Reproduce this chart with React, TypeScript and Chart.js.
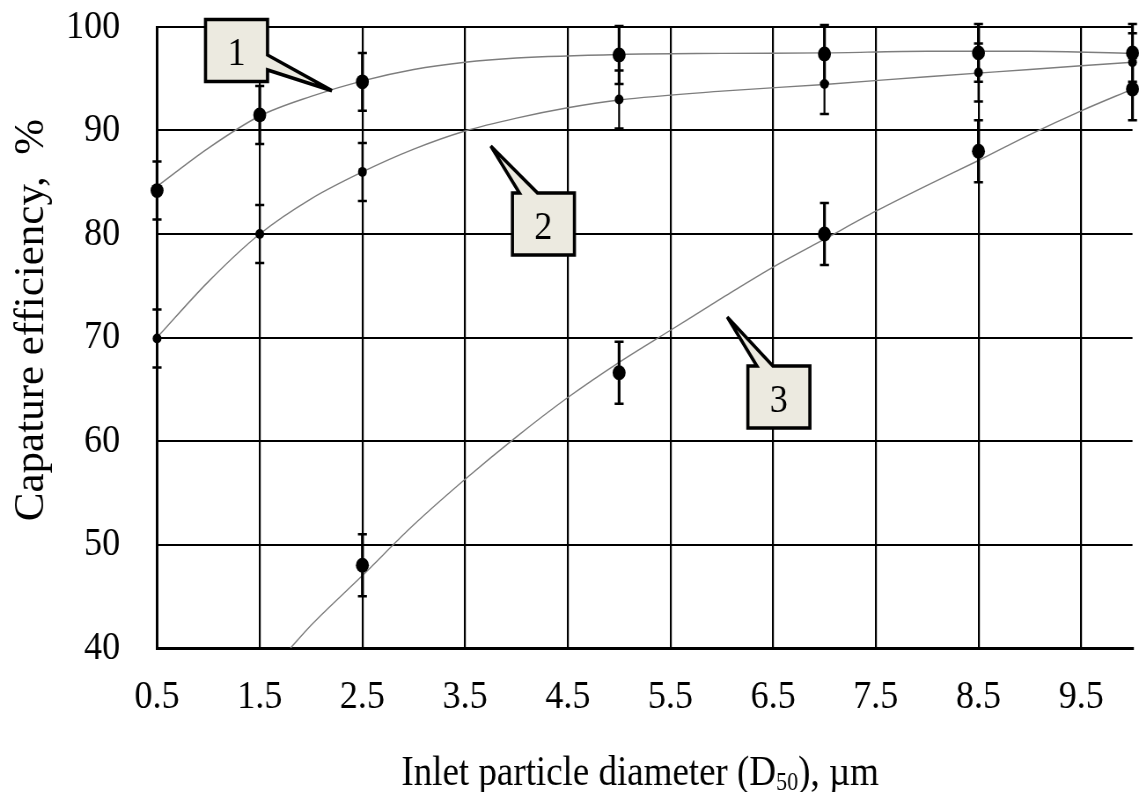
import React, { useEffect, useRef } from "react";
import { Chart, registerables } from "chart.js";

Chart.register(...registerables);

// ---------------- data ----------------
const xTickValues = [0.5, 1.5, 2.5, 3.5, 4.5, 5.5, 6.5, 7.5, 8.5, 9.5];
const yTickValues = [40, 50, 60, 70, 80, 90, 100];

// curve 1 (measured)
const diam1 = [0.5, 1.5, 2.5, 5, 7, 8.5, 10];
const eff1 = [84.2, 91.5, 94.7, 97.3, 97.4, 97.5, 97.5];
const err1 = [2.8, 2.8, 2.8, 2.8, 2.8, 2.8, 2.8];

// curve 2 (measured)
const diam2 = [0.5, 1.5, 2.5, 5, 7, 8.5, 10];
const eff2 = [69.9, 80.0, 86.0, 93.0, 94.5, 95.6, 96.6];
const err2 = [2.8, 2.8, 2.8, 2.8, 2.9, 2.8, 2.8];

// curve 3 (measured)
const diam3 = [2.5, 5, 7, 8.5, 10];
const eff3 = [48.0, 66.6, 80.0, 88.0, 94.0];
const err3 = [3.0, 3.0, 3.0, 3.0, 3.0];

// fitted trend lines
const fitX1 = [0.5, 1.0, 1.5, 2.0, 2.5, 3.0, 3.5, 4.0, 5.0, 6.0, 7.0, 8.0, 9.0, 10.0];
const fitY1 = [84.6, 88.3, 91.4, 93.3, 94.8, 95.9, 96.6, 97.0, 97.35, 97.45, 97.5, 97.65, 97.65, 97.45];

const fitX2 = [0.5, 1.0, 1.5, 2.0, 2.5, 3.0, 3.5, 4.0, 4.5, 5.0, 6.0, 7.0, 8.0, 9.0, 10.0];
const fitY2 = [70.0, 75.4, 80.0, 83.4, 86.0, 88.2, 89.95, 91.2, 92.2, 92.95, 93.8, 94.45, 95.2, 95.9, 96.6];

const fitX3 = [1.8, 2.0, 2.5, 3.0, 3.5, 4.0, 4.5, 5.0, 5.5, 6.0, 6.5, 7.0, 7.5, 8.0, 8.5, 9.0, 9.5, 10.0];
const fitY3 = [40.0, 42.2, 47.0, 51.9, 56.3, 60.4, 64.2, 67.6, 70.7, 73.8, 76.8, 79.5, 82.2, 84.7, 87.1, 89.6, 91.9, 94.0];

// callout labels (box centre and pointer tip, in data units)
const calloutLabels = ["1", "2", "3"];
const calloutBoxX = [1.274, 4.263, 6.556];
const calloutBoxY = [97.73, 80.97, 64.25];
const calloutTipX = [2.203, 3.75, 6.053];
const calloutTipY = [93.85, 88.5, 71.98];

const xTitleMain = "Inlet particle diameter (D";
const xTitleSub = "50";
const xTitleEnd = "), \u00b5m";
const yTitle = "Capature efficiency,  %";

// ---------------- layout / style ----------------
const SQUEEZE = 0.88; // the reference figure is horizontally compressed
const VIEW_W = 1139;
const VIEW_H = 792;
const CANVAS_W = Math.round(VIEW_W / SQUEEZE);
const PLOT_LEFT = 157 / SQUEEZE;
const PLOT_TOP = 27;
const PLOT_BOTTOM = 648;
const FONT = '"Liberation Serif", "Times New Roman", Times, serif';

const tailSpecs = [
  { side: "right", a: 4.5, b: 19.5 },
  { side: "top", a: -24, b: -6 },
  { side: "top", a: -22, b: -6 },
];

const toPts = (xs: number[], ys: number[]) => xs.map((x, i) => ({ x, y: ys[i] }));

const errorSets = [
  { xs: diam1, ys: eff1, es: err1, w: 3.2 },
  { xs: diam2, ys: eff2, es: err2, w: 2.2 },
  { xs: diam3, ys: eff3, es: err3, w: 3.2 },
];

const errorBarPlugin = {
  id: "errorBars",
  afterDatasetsDraw(chart: any) {
    const { ctx, scales } = chart;
    const xs = scales.x;
    const ys = scales.y;
    const capHalf = 4.5 / SQUEEZE;
    ctx.save();
    ctx.strokeStyle = "#000";
    errorSets.forEach((set) => {
      set.xs.forEach((xv, i) => {
        const px = xs.getPixelForValue(xv);
        const top = ys.getPixelForValue(set.ys[i] + set.es[i]);
        const bot = ys.getPixelForValue(set.ys[i] - set.es[i]);
        ctx.lineWidth = set.w;
        ctx.beginPath();
        ctx.moveTo(px, top);
        ctx.lineTo(px, bot);
        ctx.stroke();
        ctx.lineWidth = 2.5;
        ctx.beginPath();
        ctx.moveTo(px - capHalf, top);
        ctx.lineTo(px + capHalf, top);
        ctx.moveTo(px - capHalf, bot);
        ctx.lineTo(px + capHalf, bot);
        ctx.stroke();
      });
    });
    ctx.restore();
  },
};

const annotationPlugin = {
  id: "annotations",
  afterDraw(chart: any) {
    const { ctx, scales } = chart;
    const xs = scales.x;
    const ys = scales.y;
    const hw = 31 / SQUEEZE;
    const hh = 31;
    ctx.save();
    calloutLabels.forEach((label, i) => {
      const cx = xs.getPixelForValue(calloutBoxX[i]);
      const cy = ys.getPixelForValue(calloutBoxY[i]);
      const tx = xs.getPixelForValue(calloutTipX[i]);
      const ty = ys.getPixelForValue(calloutTipY[i]);
      const L = cx - hw, R = cx + hw, T = cy - hh, B = cy + hh;
      const t = tailSpecs[i];
      ctx.beginPath();
      ctx.moveTo(L, T);
      if (t.side === "top") {
        ctx.lineTo(cx + t.a / SQUEEZE, T);
        ctx.lineTo(tx, ty);
        ctx.lineTo(cx + t.b / SQUEEZE, T);
        ctx.lineTo(R, T);
        ctx.lineTo(R, B);
      } else {
        ctx.lineTo(R, T);
        ctx.lineTo(R, cy + t.a);
        ctx.lineTo(tx, ty);
        ctx.lineTo(R, cy + t.b);
        ctx.lineTo(R, B);
      }
      ctx.lineTo(L, B);
      ctx.closePath();
      ctx.fillStyle = "#ECEAE0";
      ctx.fill();
      ctx.lineWidth = 3.6;
      ctx.lineJoin = "miter";
      ctx.miterLimit = 4;
      ctx.strokeStyle = "#000";
      ctx.stroke();
      ctx.fillStyle = "#000";
      ctx.font = `41px ${FONT}`;
      ctx.textAlign = "center";
      ctx.textBaseline = "alphabetic";
      ctx.fillText(label, cx, cy + 15);
    });

    // y-axis title (not compressed across its height in the reference)
    ctx.save();
    ctx.font = `43px ${FONT}`;
    ctx.fillStyle = "#000";
    ctx.translate(43 / SQUEEZE, 320);
    ctx.rotate(-Math.PI / 2);
    ctx.scale(1, 1 / SQUEEZE);
    ctx.textAlign = "center";
    ctx.textBaseline = "alphabetic";
    ctx.fillText(yTitle, 0, 0);
    ctx.restore();

    // x-axis title with subscript
    ctx.fillStyle = "#000";
    ctx.textAlign = "left";
    ctx.textBaseline = "alphabetic";
    const mainFont = `42px ${FONT}`;
    const subFont = `25px ${FONT}`;
    ctx.font = mainFont;
    const w1 = ctx.measureText(xTitleMain).width;
    const w3 = ctx.measureText(xTitleEnd).width;
    ctx.font = subFont;
    const w2 = ctx.measureText(xTitleSub).width;
    const total = w1 + w2 + w3;
    const centerX = 640 / SQUEEZE;
    const base = 785;
    let x0 = centerX - total / 2;
    ctx.font = mainFont;
    ctx.fillText(xTitleMain, x0, base);
    x0 += w1;
    ctx.font = subFont;
    ctx.fillText(xTitleSub, x0, base + 5);
    x0 += w2;
    ctx.font = mainFont;
    ctx.fillText(xTitleEnd, x0, base);
    ctx.restore();
  },
};

export default function App() {
  const canvasRef = useRef<HTMLCanvasElement | null>(null);

  useEffect(() => {
    const canvas = canvasRef.current;
    if (!canvas) return;
    const fitStyle = {
      showLine: true,
      pointRadius: 0,
      borderColor: "#7d7d7d",
      borderWidth: 1.4,
      cubicInterpolationMode: "monotone" as const,
      fill: false,
    };
    const chart = new Chart(canvas, {
      type: "scatter",
      data: {
        datasets: [
          { label: "1", data: toPts(diam1, eff1), pointRadius: 7.4, backgroundColor: "#000", borderColor: "#000", pointBorderWidth: 0, clip: false },
          { label: "2", data: toPts(diam2, eff2), pointRadius: 5, backgroundColor: "#000", borderColor: "#000", pointBorderWidth: 0, clip: false },
          { label: "3", data: toPts(diam3, eff3), pointRadius: 7.4, backgroundColor: "#000", borderColor: "#000", pointBorderWidth: 0, clip: false },
          { label: "fit 1", data: toPts(fitX1, fitY1), ...fitStyle },
          { label: "fit 2", data: toPts(fitX2, fitY2), ...fitStyle },
          { label: "fit 3", data: toPts(fitX3, fitY3), ...fitStyle },
        ] as any,
      },
      options: {
        responsive: false,
        devicePixelRatio: 1,
        animation: false,
        events: [],
        layout: { padding: { top: PLOT_TOP, left: 0, right: 0, bottom: 0 } },
        plugins: { legend: { display: false }, tooltip: { enabled: false }, title: { display: false } },
        scales: {
          x: {
            type: "linear",
            min: 0.5,
            max: 10,
            afterBuildTicks: (s: any) => {
              s.ticks = xTickValues.map((v) => ({ value: v }));
            },
            afterFit: (s: any) => {
              s.height = VIEW_H - PLOT_BOTTOM;
              s.paddingLeft = 0;
              s.paddingRight = 0;
            },
            grid: { color: "#000", lineWidth: 2.2, drawTicks: false },
            border: { color: "#000", width: 3 },
            ticks: { color: "#000", font: { family: FONT, size: 41 }, padding: 25, maxRotation: 0, autoSkip: false },
          },
          y: {
            type: "linear",
            min: 40,
            max: 100,
            afterBuildTicks: (s: any) => {
              s.ticks = yTickValues.map((v) => ({ value: v }));
            },
            afterFit: (s: any) => {
              s.width = PLOT_LEFT;
              s.paddingTop = 0;
              s.paddingBottom = 0;
            },
            grid: { color: "#000", lineWidth: 2, drawTicks: false },
            border: { color: "#000", width: 3 },
            ticks: { color: "#000", font: { family: FONT, size: 41 }, padding: 42 },
          },
        },
      } as any,
      plugins: [errorBarPlugin, annotationPlugin],
    });
    return () => chart.destroy();
  }, []);

  return (
    <div style={{ position: "absolute", left: 0, top: 0, width: VIEW_W, height: VIEW_H, background: "#fff", overflow: "hidden" }}>
      <canvas
        ref={canvasRef}
        width={CANVAS_W}
        height={VIEW_H}
        style={{ width: `${VIEW_W}px`, height: `${VIEW_H}px`, display: "block" }}
      />
    </div>
  );
}
